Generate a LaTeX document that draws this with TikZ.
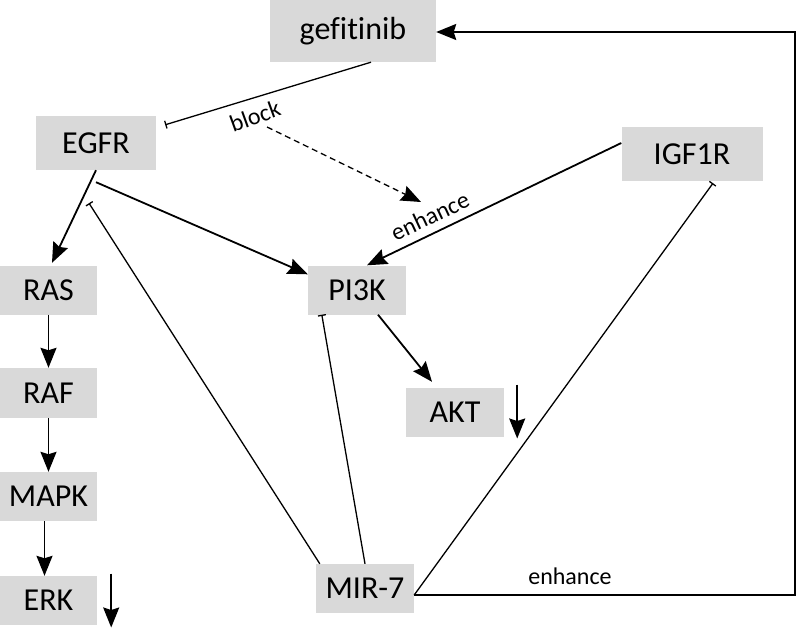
\documentclass[tikz,border=0pt]{standalone}
\usepackage{fontspec}
\setmainfont{Carlito}[Ligatures=NoCommon]
\usetikzlibrary{arrows.meta}
\definecolor{boxgray}{HTML}{D9D9D9}
\tikzset{
  box/.style={fill=boxgray, inner sep=0pt, font=\fontsize{32}{32}\selectfont},
  arr/.style={line width=1.8pt, -{Stealth[length=20pt,width=16pt,inset=2.5pt]}},
  tee/.style={line width=1.3pt, -{Bar[width=8pt,line width=1.3pt]}},
  lbl/.style={font=\fontsize{24}{24}\selectfont, inner sep=0pt},
}
\begin{document}
\begin{tikzpicture}[x=1pt,y=-1pt]
\useasboundingbox (0,0) rectangle (797,628);
% nodes
\node[box, minimum width=166pt, minimum height=62pt] (gef) at (353,31) {gefitinib};
\node[box, minimum width=120pt, minimum height=54pt] (EGFR) at (96,143) {EGFR};
\node[box, minimum width=141pt, minimum height=54pt] (IGF) at (692,154) {IGF1R};
\node[box, minimum width=98pt, minimum height=49pt] (PI3K) at (357,290) {PI3K};
\node[box, minimum width=97pt, minimum height=49pt] (RAS) at (48.5,290) {RAS};
\node[box, minimum width=97pt, minimum height=50pt] (RAF) at (48.5,393) {RAF};
\node[box, minimum width=97pt, minimum height=49pt] (MAPK) at (48.5,496.5) {MAPK};
\node[box, minimum width=97pt, minimum height=49pt] (ERK) at (48.5,600.5) {ERK};
\node[box, minimum width=98pt, minimum height=49pt] (MIR) at (365,588.5) {MIR-7};
\node[box, minimum width=98pt, minimum height=49pt] (AKT) at (455,412.5) {AKT};
\coordinate (d1) at (267,127);
\coordinate (d2) at (421,202);
% connectors
\draw[tee] ([xshift=18pt]gef.south) -- ([xshift=9pt,yshift=-9pt]EGFR.north east);
\draw[arr, line width=1.3pt, dash pattern=on 6pt off 4pt] (d1) -- (d2);
\draw[arr] ([yshift=-12pt]EGFR.south) -- ([yshift=-9pt]PI3K.north west);
\draw[arr] (EGFR.south) -- ([xshift=3.5pt,yshift=2.5pt]RAS.north);
\draw[arr] ([yshift=11pt]IGF.west) -- ([xshift=10pt]PI3K.north);
\draw[arr] (RAS.south) -- (RAF.north);
\draw[arr] (RAF.south) -- (MAPK.north);
\draw[arr] ([xshift=-4pt]MAPK.south) -- ([xshift=-4pt]ERK.north);
\draw[arr] ([xshift=14pt,yshift=27pt]ERK.east) -- ([xshift=14pt,yshift=-27pt]ERK.east);
\draw[arr] ([xshift=13pt,yshift=28pt]AKT.east) -- ([xshift=13pt,yshift=-26pt]AKT.east);
\draw[arr] ([xshift=21pt]PI3K.south) -- ([xshift=-23pt,yshift=6pt]AKT.north);
\draw[tee] ([xshift=4pt]MIR.north west) -- ([xshift=-7pt,yshift=-33pt]EGFR.south);
\draw[tee] (MIR.north) -- ([xshift=14pt]PI3K.south west);
\draw[tee] ([yshift=-6.5pt]MIR.east) -- ([xshift=21pt,yshift=-2pt]IGF.south);
\draw[arr] ([yshift=-6.5pt]MIR.east) -| ([xshift=359pt,yshift=-1pt]gef.east) -- ([yshift=-1pt]gef.east);
% labels
\node[lbl, rotate=20] (lblock) at (255,116) {block};
\node[lbl, rotate=25] (lenh1) at (430,216) {enhance};
\node[lbl] (lenh2) at (570,576) {enhance};
\end{tikzpicture}
\end{document}
